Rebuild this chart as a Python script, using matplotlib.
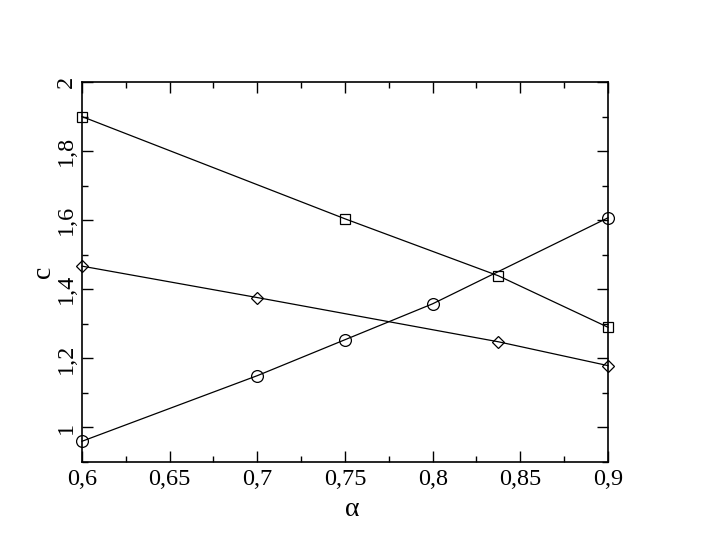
import matplotlib
matplotlib.use("Agg")
from matplotlib import pyplot as plt
from matplotlib.ticker import MultipleLocator, FuncFormatter

plt.rcParams['font.family'] = 'Liberation Serif'

alpha_sq = [0.6, 0.75, 0.8375, 0.9]
c_sq = [1.9, 1.604, 1.439, 1.29]

alpha_ci = [0.6, 0.7, 0.75, 0.8, 0.9]
c_ci = [0.96, 1.15, 1.254, 1.358, 1.607]

alpha_di = [0.6, 0.7, 0.8375, 0.9]
c_di = [1.467, 1.376, 1.248, 1.179]

fig = plt.figure(figsize=(7.05, 5.45), dpi=100)
ax = fig.add_axes([0.1163, 0.1523, 0.7461, 0.6972])

ax.plot(alpha_sq, c_sq, color='black', lw=0.9, marker='s', ms=7,
        mfc='none', mec='black', mew=0.9, clip_on=False)
ax.plot(alpha_ci, c_ci, color='black', lw=0.9, marker='o', ms=8.5,
        mfc='none', mec='black', mew=0.9, clip_on=False)
ax.plot(alpha_di, c_di, color='black', lw=0.9, marker='D', ms=6.5,
        mfc='none', mec='black', mew=0.9, clip_on=False)

ax.set_xlim(0.6, 0.9)
ax.set_ylim(0.9, 2.0)

def comma(v, pos):
    s = ('%.3f' % v).rstrip('0').rstrip('.')
    return s.replace('.', ',')

ax.xaxis.set_major_locator(MultipleLocator(0.05))
ax.xaxis.set_minor_locator(MultipleLocator(0.025))
ax.yaxis.set_major_locator(MultipleLocator(0.2))
ax.yaxis.set_minor_locator(MultipleLocator(0.1))
ax.xaxis.set_major_formatter(FuncFormatter(comma))
ax.yaxis.set_major_formatter(FuncFormatter(comma))

ax.tick_params(which='both', direction='in', top=True, right=True,
               labelsize=17.5, width=1.0)
ax.tick_params(which='major', length=8)
ax.tick_params(which='minor', length=4)
ax.tick_params(axis='x', pad=5)
for lab in ax.get_yticklabels():
    lab.set_rotation(90)
    lab.set_va('center')
for sp in ax.spines.values():
    sp.set_linewidth(1.2)

ax.set_xlabel('α', fontsize=20, labelpad=5, x=0.513)
ax.set_ylabel('c', fontsize=20, labelpad=0)

fig.savefig('out.png', dpi=100)
